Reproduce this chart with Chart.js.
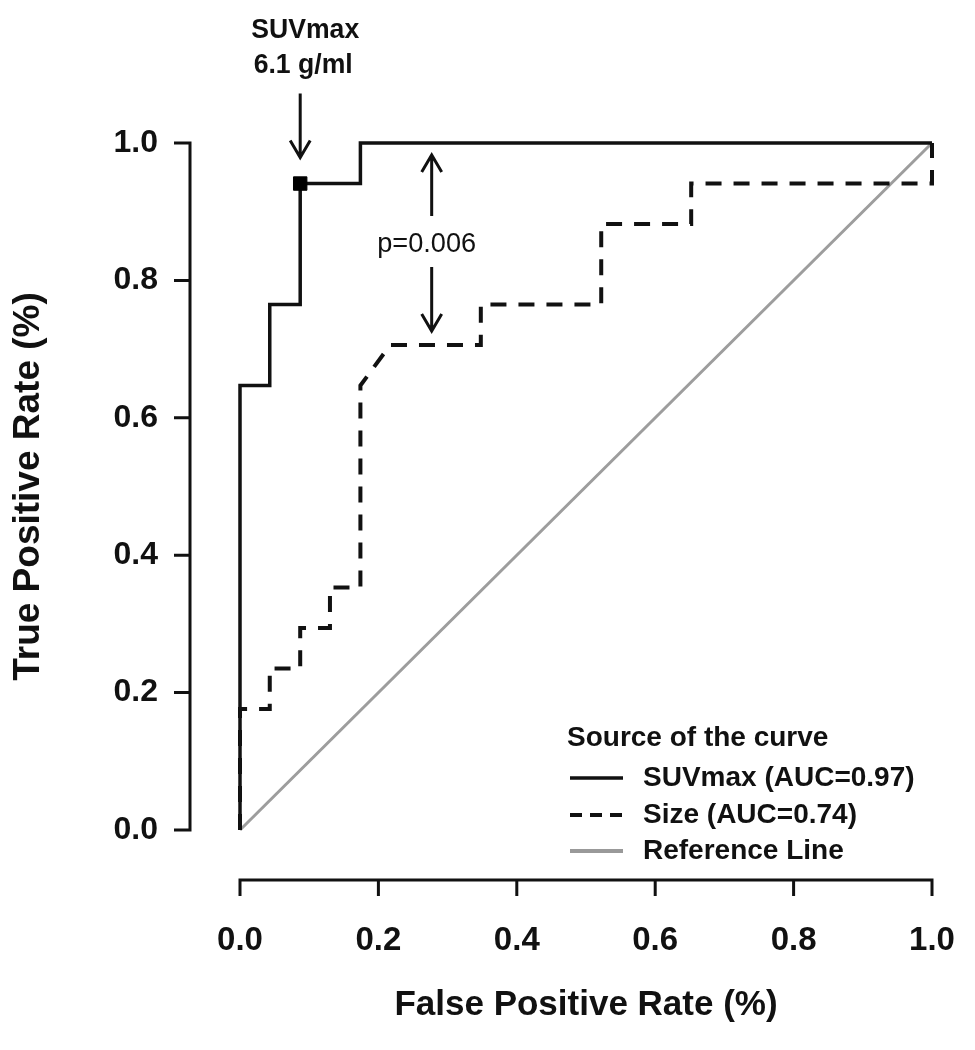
<!DOCTYPE html>
<html>
<head>
<meta charset="utf-8">
<script src="https://cdn.jsdelivr.net/npm/chart.js@4"></script>
<style>
  html, body { margin: 0; padding: 0; background: #fff; }
  #wrap { width: 975px; height: 1050px; }
</style>
</head>
<body>
<div id="wrap"><canvas id="roc" width="975" height="1050"></canvas></div>
<script>
// ROC curve: SUVmax vs tumour size

var rateTicks = [0, 0.2, 0.4, 0.6, 0.8, 1.0];

// SUVmax curve vertices (false positive rate / true positive rate)
var suvFpr = [0, 0, 0.043, 0.043, 0.087, 0.087, 0.174, 0.174, 1.0];
var suvTpr = [0, 0.647, 0.647, 0.765, 0.765, 0.941, 0.941, 1.0, 1.0];

// Size curve vertices
var sizeFpr = [0, 0, 0.043, 0.043, 0.087, 0.087, 0.130, 0.130, 0.174, 0.174, 0.217, 0.348, 0.348, 0.522, 0.522, 0.652, 0.652, 1.0, 1.0];
var sizeTpr = [0, 0.176, 0.176, 0.235, 0.235, 0.294, 0.294, 0.353, 0.353, 0.647, 0.706, 0.706, 0.765, 0.765, 0.882, 0.882, 0.941, 0.941, 1.0];

// Reference (chance) line
var refFpr = [0, 1];
var refTpr = [0, 1];

// Cut-off point marked on the SUVmax curve
var cutFpr = [0.087];
var cutTpr = [0.941];
var cutLabel = ['SUVmax', '6.1 g/ml'];

// p-value arrow between the curves
var pArrowFpr = 0.277;
var pArrowTop = 1.0;
var pArrowBottom = 0.706;
var pLabel = 'p=0.006';

var legendTitle = 'Source of the curve';
var legendLabels = ['SUVmax (AUC=0.97)', 'Size (AUC=0.74)', 'Reference Line'];

function toPoints(xs, ys) {
  return xs.map(function (x, i) { return { x: x, y: ys[i] }; });
}

var FONT = '"Liberation Sans", Arial, sans-serif';

function arrow(ctx, x, y0, y1) {
  // shaft from y0 to tip y1, open V head at the tip
  var dir = y1 > y0 ? 1 : -1;
  ctx.beginPath();
  ctx.moveTo(x, y0);
  ctx.lineTo(x, y1);
  ctx.moveTo(x - 10, y1 - dir * 17);
  ctx.lineTo(x, y1);
  ctx.lineTo(x + 10, y1 - dir * 17);
  ctx.stroke();
}

// slightly condensed text, like the original figure
function narrowText(ctx, txt, x, y, sx) {
  ctx.save();
  ctx.translate(x, y);
  ctx.scale(sx, 1);
  ctx.fillText(txt, 0, 0);
  ctx.restore();
}

var decorPlugin = {
  id: 'decor',
  afterDraw: function (chart) {
    var ctx = chart.ctx;
    var xs = chart.scales.x, ys = chart.scales.y;
    var area = chart.chartArea;
    ctx.save();
    ctx.strokeStyle = '#111';
    ctx.fillStyle = '#111';
    ctx.lineCap = 'butt';

    // detached x axis
    var axY = area.bottom + 50;
    ctx.lineWidth = 3;
    ctx.beginPath();
    ctx.moveTo(xs.getPixelForValue(0) - 1.5, axY);
    ctx.lineTo(xs.getPixelForValue(1) + 1.5, axY);
    rateTicks.forEach(function (t) {
      var px = xs.getPixelForValue(t);
      ctx.moveTo(px, axY);
      ctx.lineTo(px, axY + 16);
    });
    ctx.stroke();

    // detached y axis
    var axX = area.left - 50;
    ctx.beginPath();
    ctx.moveTo(axX, ys.getPixelForValue(1) - 1.5);
    ctx.lineTo(axX, ys.getPixelForValue(0) + 1.5);
    rateTicks.forEach(function (t) {
      var py = ys.getPixelForValue(t);
      ctx.moveTo(axX, py);
      ctx.lineTo(axX - 16, py);
    });
    ctx.stroke();

    // cut-off annotation
    var cx = xs.getPixelForValue(cutFpr[0]);
    var cy = ys.getPixelForValue(cutTpr[0]);
    ctx.lineWidth = 3;
    arrow(ctx, cx, cy - 90, cy - 26);
    ctx.font = 'bold 28px ' + FONT;
    ctx.textAlign = 'center';
    ctx.textBaseline = 'middle';
    narrowText(ctx, cutLabel[0], cx + 5, cy - 153, 0.95);
    narrowText(ctx, cutLabel[1], cx + 3, cy - 118, 0.95);

    // p-value double arrow
    var px = xs.getPixelForValue(pArrowFpr);
    var pTop = ys.getPixelForValue(pArrowTop) + 12;
    var pBot = ys.getPixelForValue(pArrowBottom) - 14;
    var mid = (pTop + pBot) / 2;
    arrow(ctx, px, mid - 27, pTop);
    arrow(ctx, px, mid + 24, pBot);
    ctx.font = '28px ' + FONT;
    narrowText(ctx, pLabel, px - 5, mid + 1, 0.97);

    // legend
    var lx = 567, ly = 738;
    ctx.textAlign = 'left';
    ctx.font = 'bold 28px ' + FONT;
    narrowText(ctx, legendTitle, lx, ly, 1.0);
    var rows = [778, 815, 851];
    var styles = [
      { color: '#111', width: 3.5, dash: [] },
      { color: '#111', width: 4, dash: [12, 8] },
      { color: '#999', width: 4, dash: [] }
    ];
    legendLabels.forEach(function (lab, i) {
      var st = styles[i];
      ctx.strokeStyle = st.color;
      ctx.lineWidth = st.width;
      ctx.setLineDash(st.dash);
      ctx.beginPath();
      ctx.moveTo(lx + 3, rows[i]);
      ctx.lineTo(lx + 56, rows[i]);
      ctx.stroke();
      ctx.setLineDash([]);
      ctx.fillStyle = '#111';
      narrowText(ctx, lab, lx + 76, rows[i], 1.0);
    });
    ctx.restore();
  }
};

new Chart(document.getElementById('roc'), {
  type: 'scatter',
  data: {
    datasets: [
      {
        label: 'Reference Line',
        data: toPoints(refFpr, refTpr),
        showLine: true,
        borderColor: '#9d9d9d',
        borderWidth: 3,
        pointRadius: 0,
        clip: 8,
        order: 3
      },
      {
        label: 'Size',
        data: toPoints(sizeFpr, sizeTpr),
        showLine: true,
        borderColor: '#111',
        borderWidth: 4,
        borderDash: [16, 12],
        pointRadius: 0,
        clip: 8,
        order: 2
      },
      {
        label: 'SUVmax',
        data: toPoints(suvFpr, suvTpr),
        showLine: true,
        borderColor: '#111',
        borderWidth: 3.5,
        pointRadius: 0,
        clip: 8,
        order: 1
      },
      {
        label: 'Cut-off',
        data: toPoints(cutFpr, cutTpr),
        showLine: false,
        pointStyle: 'rect',
        pointRadius: 9.5,
        backgroundColor: '#000',
        borderColor: '#000',
        clip: 12,
        order: 0
      }
    ]
  },
  options: {
    responsive: false,
    animation: false,
    devicePixelRatio: 1,
    layout: { padding: { left: 0, top: 143, right: 43, bottom: 0 } },
    elements: { line: { tension: 0, borderCapStyle: 'butt', borderJoinStyle: 'miter' } },
    plugins: { legend: { display: false }, tooltip: { enabled: false } },
    scales: {
      x: {
        type: 'linear',
        min: 0,
        max: 1,
        afterFit: function (s) { s.height = 220; s.paddingLeft = 0; s.paddingRight = 0; },
        afterBuildTicks: function (s) { s.ticks = rateTicks.map(function (v) { return { value: v }; }); },
        grid: { display: false, drawTicks: false },
        border: { display: false },
        ticks: {
          padding: 91,
          maxRotation: 0,
          color: '#111',
          font: { family: FONT, size: 33, weight: 'bold' },
          callback: function (v) { return v.toFixed(1); }
        },
        title: {
          display: true,
          text: 'False Positive Rate (%)',
          color: '#111',
          font: { family: FONT, size: 35, weight: 'bold' },
          padding: { top: 0, bottom: 24 }
        }
      },
      y: {
        type: 'linear',
        min: 0,
        max: 1,
        afterFit: function (s) { s.width = 240; s.paddingTop = 0; s.paddingBottom = 0; },
        afterBuildTicks: function (s) { s.ticks = rateTicks.map(function (v) { return { value: v }; }); },
        grid: { display: false, drawTicks: false },
        border: { display: false },
        ticks: {
          padding: 82,
          color: '#111',
          font: { family: FONT, size: 32, weight: 'bold' },
          callback: function (v) { return v.toFixed(1); }
        },
        title: {
          display: true,
          text: 'True Positive Rate (%)',
          color: '#111',
          font: { family: FONT, size: 37, weight: 'bold' },
          padding: { top: 7, bottom: 0 }
        }
      }
    }
  },
  plugins: [decorPlugin]
});
</script>
</body>
</html>
